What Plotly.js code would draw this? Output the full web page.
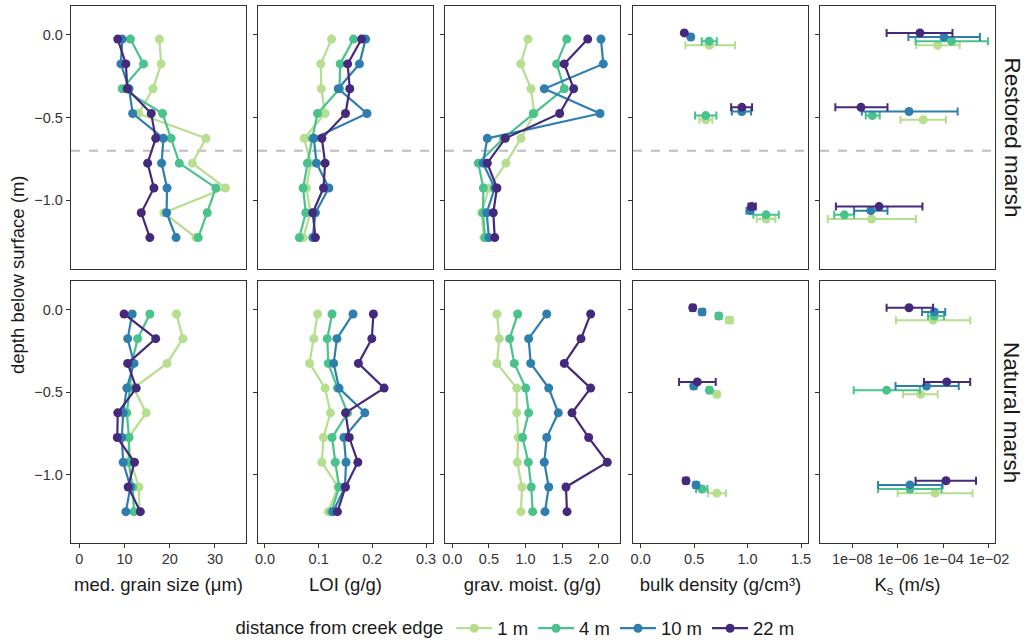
<!DOCTYPE html>
<html><head><meta charset="utf-8">
<script src="https://cdn.plot.ly/plotly-3.0.1.min.js"></script>
<style>body{margin:0;background:#fff}#chart{width:1033px;height:640px}</style>
</head><body><div id="chart"></div>
<script>
// ---- data ----
const distances = ['1 m', '4 m', '10 m', '22 m'];
const colors = ['#b5de8f', '#4ac28c', '#2e7eae', '#45297c'];
const sites = ['Restored marsh', 'Natural marsh'];
const depth = [-0.025, -0.175, -0.325, -0.475, -0.625, -0.775, -0.925, -1.075, -1.225];
const coreDepth = [-0.025, -0.475, -1.075];

// profiles: one row per distance (1, 4, 10, 22 m)
const grainRestored = [
  [17.7, 18.1, 16.3, 13.1, 28.0, 25.0, 32.3, 18.7, 25.8],
  [11.3, 14.2, 9.5, 18.4, 20.3, 22.1, 30.2, 28.3, 26.3],
  [9.5, 9.2, 11.0, 11.8, 18.6, 18.2, 19.4, 19.3, 21.4],
  [8.5, 10.3, 10.6, 15.9, 16.9, 15.1, 16.5, 13.7, 15.6]
];
const grainNatural = [
  [21.5, 22.9, 19.4, 12.0, 14.8, 10.9, 11.4, 13.2, 13.3],
  [15.6, 12.9, 11.6, 11.2, 10.5, 11.0, 10.9, 11.8, 12.1],
  [11.7, 10.7, 12.1, 10.5, 9.7, 9.4, 9.7, 11.3, 10.3],
  [9.9, 16.9, 10.7, 12.6, 8.5, 8.4, 12.2, 10.8, 13.5]
];
const loiRestored = [
  [0.124, 0.104, 0.105, 0.112, 0.073, 0.085, 0.077, 0.085, 0.071],
  [0.165, 0.140, 0.139, 0.098, 0.088, 0.079, 0.071, 0.076, 0.064],
  [0.1875, 0.176, 0.1365, 0.190, 0.091, 0.096, 0.119, 0.094, 0.089],
  [0.180, 0.154, 0.158, 0.150, 0.106, 0.112, 0.109, 0.089, 0.094]
];
const loiNatural = [
  [0.098, 0.091, 0.083, 0.112, 0.122, 0.109, 0.106, 0.136, 0.118],
  [0.125, 0.116, 0.118, 0.135, 0.154, 0.125, 0.131, 0.138, 0.124],
  [0.164, 0.134, 0.128, 0.138, 0.186, 0.147, 0.151, 0.149, 0.127],
  [0.202, 0.199, 0.174, 0.222, 0.150, 0.157, 0.173, 0.150, 0.135]
];
const moistRestored = [
  [1.034, 0.934, 1.075, 1.12, 0.938, 0.733, 0.50, 0.40, 0.43],
  [1.563, 1.426, 1.53, 1.107, 0.70, 0.355, 0.424, 0.42, 0.447],
  [2.031, 2.063, 1.257, 2.018, 0.478, 0.42, 0.58, 0.47, 0.50],
  [1.85, 1.53, 1.658, 1.467, 0.724, 0.478, 0.61, 0.56, 0.58]
];
const moistNatural = [
  [0.61, 0.642, 0.61, 0.88, 0.88, 0.90, 0.888, 0.952, 0.938],
  [0.893, 0.784, 0.847, 1.003, 1.043, 0.96, 1.038, 1.079, 1.098],
  [1.29, 1.043, 1.071, 1.317, 1.448, 1.29, 1.257, 1.317, 1.266],
  [1.89, 1.758, 1.53, 1.89, 1.635, 1.863, 2.117, 1.553, 1.567]
];

// bulk density (mean, low, high) per distance at the three core depths
const bdRestored = [
  [0.643, 0.608, 1.173], [0.640, 0.608, 1.173], [0.468, 0.946, 1.024], [0.408, 0.946, 1.039]
];
const bdRestoredLo = [
  [0.418, 0.549, 1.086], [0.571, 0.508, 1.054], [0.450, 0.852, 0.990], [0.400, 0.846, 1.008]
];
const bdRestoredHi = [
  [0.883, 0.670, 1.260], [0.712, 0.708, 1.292], [0.490, 1.033, 1.044], [0.415, 1.042, 1.077]
];
const bdNatural = [
  [0.830, 0.712, 0.712], [0.730, 0.643, 0.574], [0.574, 0.496, 0.518], [0.487, 0.530, 0.424]
];
const bdNaturalLo = [
  [0.800, 0.690, 0.630], [0.705, 0.620, 0.518], [0.550, 0.475, 0.495], [0.465, 0.359, 0.400]
];
const bdNaturalHi = [
  [0.860, 0.735, 0.799], [0.755, 0.665, 0.624], [0.600, 0.520, 0.540], [0.510, 0.702, 0.445]
];

// saturated hydraulic conductivity Ks (m/s): mean, low, high
const ksRestored = [
  [5.6e-5, 1.3e-5, 7.1e-8], [2.3e-4, 7.6e-8, 4.5e-9], [1.05e-4, 3.1e-6, 6.5e-8], [9.3e-6, 2.4e-8, 1.5e-7]
];
const ksRestoredLo = [
  [6.5e-6, 1.3e-6, 8.3e-10], [6.0e-6, 3.9e-8, 1.6e-9], [2.9e-6, 2.6e-8, 1.2e-8], [3.2e-7, 1.8e-9, 1.9e-9]
];
const ksRestoredHi = [
  [5.2e-4, 1.3e-4, 6.2e-6], [9.1e-3, 1.6e-7, 1.2e-8], [4.0e-3, 4.2e-4, 3.5e-7], [2.5e-4, 3.5e-7, 1.2e-5]
];
const ksNatural = [
  [3.5e-5, 1.0e-5, 4.3e-5], [4.0e-5, 3.2e-7, 3.4e-6], [4.0e-5, 1.8e-5, 3.4e-6], [3.1e-6, 1.4e-4, 1.3e-4]
];
const ksNaturalLo = [
  [8.3e-7, 1.7e-6, 9.8e-7], [2.1e-5, 1.15e-8, 1.35e-7], [1.15e-5, 7.9e-7, 1.35e-7], [3.2e-7, 1.4e-5, 6.0e-6]
];
const ksNaturalHi = [
  [1.5e-3, 5.6e-5, 1.9e-3], [1.05e-4, 9.3e-6, 8.3e-5], [1.2e-4, 4.7e-4, 9.1e-5], [3.5e-5, 1.5e-3, 2.7e-3]
];

const xTitles = ['med. grain size (μm)', 'LOI (g/g)', 'grav. moist. (g/g)', 'bulk density (g/cm³)', 'K<sub>s</sub> (m/s)'];
const ksTickVals = [1e-8, 1e-6, 1e-4, 1e-2];
const ksTickText = ['1e\u221208', '1e\u221206', '1e\u221204', '1e\u221202'];
const restoredCut = -0.7;

// ---- layout helpers ----
const FONT = 'Liberation Sans Narrow, Arial Narrow, Liberation Sans, Arial, sans-serif';
const W = 1033, H = 640;
const colPx = [[71, 246], [258, 433], [445, 620], [633, 808], [820, 995]];
const rowPx = [[6, 269], [281, 543]];
const xRanges = [[-1.835, 36.86], [-0.013, 0.313], [-0.0997, 2.291], [-0.072, 1.565], [-9.418, -1.736]];
const yRange = [-1.415, 0.175];
const dodge = [-0.0375, -0.0125, 0.0125, 0.0375];

const profiles = [[grainRestored, grainNatural], [loiRestored, loiNatural], [moistRestored, moistNatural]];
const cores = [
  [[bdRestored, bdRestoredLo, bdRestoredHi], [bdNatural, bdNaturalLo, bdNaturalHi]],
  [[ksRestored, ksRestoredLo, ksRestoredHi], [ksNatural, ksNaturalLo, ksNaturalHi]]
];

const traces = [];
const layout = {
  width: W, height: H, margin: {l: 0, r: 0, t: 0, b: 0, autoexpand: false},
  paper_bgcolor: '#fff', plot_bgcolor: '#fff',
  font: {family: FONT, size: 14, color: '#1a1a1a'},
  showlegend: true,
  legend: {
    orientation: 'h', x: 0.5, xanchor: 'center', y: -0.012, yanchor: 'bottom',
    font: {size: 18.5, color: '#1a1a1a', family: FONT},
    title: {text: 'distance from creek edge', side: 'left', font: {size: 18.5, family: FONT}},
    itemwidth: 36, tracegroupgap: 0
  },
  shapes: [], annotations: []
};

for (let r = 0; r < 2; r++) {
  for (let c = 0; c < 5; c++) {
    const idx = r * 5 + c + 1;
    const xa = 'xaxis' + (idx === 1 ? '' : idx), ya = 'yaxis' + (idx === 1 ? '' : idx);
    const xr = 'x' + (idx === 1 ? '' : idx), yr = 'y' + (idx === 1 ? '' : idx);
    const isLog = c === 4;
    layout[xa] = {
      domain: [colPx[c][0] / W, colPx[c][1] / W],
      anchor: yr, range: xRanges[c], type: isLog ? 'log' : 'linear',
      showgrid: false, zeroline: false, showline: true, mirror: true,
      linecolor: '#333', linewidth: 1.2,
      ticks: r === 1 ? 'outside' : '', ticklen: 4, tickcolor: '#333',
      showticklabels: r === 1, ticklabelstandoff: -2,
      tickfont: {size: 14.5, color: '#333', family: FONT}
    };
    if (isLog) { layout[xa].tickvals = ksTickVals; layout[xa].ticktext = ksTickText; }
    else if (c === 0) { layout[xa].tickvals = [0, 10, 20, 30]; }
    else if (c === 1) { layout[xa].tickvals = [0, 0.1, 0.2, 0.3]; layout[xa].tickformat = '.1f'; }
    else { layout[xa].tickvals = [0, 0.5, 1, 1.5, 2].filter(v => v <= xRanges[c][1]); layout[xa].tickformat = '.1f'; }
    if (r === 1) {
      layout[xa].title = {text: xTitles[c], font: {size: 18.5, color: '#1a1a1a', family: FONT}, standoff: 12};
    }
    layout[ya] = {
      domain: [1 - rowPx[r][1] / H, 1 - rowPx[r][0] / H],
      anchor: xr, range: yRange, showgrid: false, zeroline: false,
      showline: true, mirror: true, linecolor: '#333', linewidth: 1.2,
      ticks: 'outside', ticklen: 4, tickcolor: '#333',
      tickvals: [0, -0.5, -1], tickformat: '.1f',
      showticklabels: c === 0, tickfont: {size: 14.5, color: '#333', family: FONT}
    };
    if (r === 0) {
      layout.shapes.push({type: 'line', xref: xr + ' domain', yref: yr, x0: 0, x1: 1, y0: restoredCut, y1: restoredCut,
        line: {color: '#bdbdbd', width: 2, dash: 'dash'}, layer: 'below'});
    }
    for (let d = 0; d < 4; d++) {
      if (c < 3) {
        traces.push({
          type: 'scatter', mode: 'lines+markers', x: profiles[c][r][d], y: depth,
          xaxis: xr, yaxis: yr, name: distances[d], legendgroup: distances[d],
          showlegend: idx === 1,
          line: {color: colors[d], width: 2.2}, marker: {color: colors[d], size: 9},
          cliponaxis: true
        });
      } else {
        const [m, lo, hi] = cores[c - 3][r];
        traces.push({
          type: 'scatter', mode: 'markers', x: m[d], y: coreDepth.map(v => v + dodge[d]),
          xaxis: xr, yaxis: yr, name: distances[d], legendgroup: distances[d], showlegend: false,
          marker: {color: colors[d], size: 9},
          error_x: {type: 'data', symmetric: false,
            array: hi[d].map((v, i) => v - m[d][i]), arrayminus: m[d].map((v, i) => v - lo[d][i]),
            color: colors[d], thickness: 2, width: 4}
        });
      }
    }
  }
  layout.annotations.push({
    text: sites[r], xref: 'paper', yref: 'paper', x: 1012 / W,
    y: 1 - (rowPx[r][0] + rowPx[r][1]) / 2 / H, textangle: 90, showarrow: false,
    font: {size: 22.5, color: '#1a1a1a', family: FONT}, xanchor: 'center', yanchor: 'middle'
  });
}
layout.annotations.push({
  text: 'depth below surface (m)', xref: 'paper', yref: 'paper', x: 17 / W,
  y: 1 - 275 / H, textangle: -90, showarrow: false,
  font: {size: 18.5, color: '#1a1a1a', family: FONT}, xanchor: 'center', yanchor: 'middle'
});

Plotly.newPlot('chart', traces, layout, {displayModeBar: false, staticPlot: true});
</script></body></html>
